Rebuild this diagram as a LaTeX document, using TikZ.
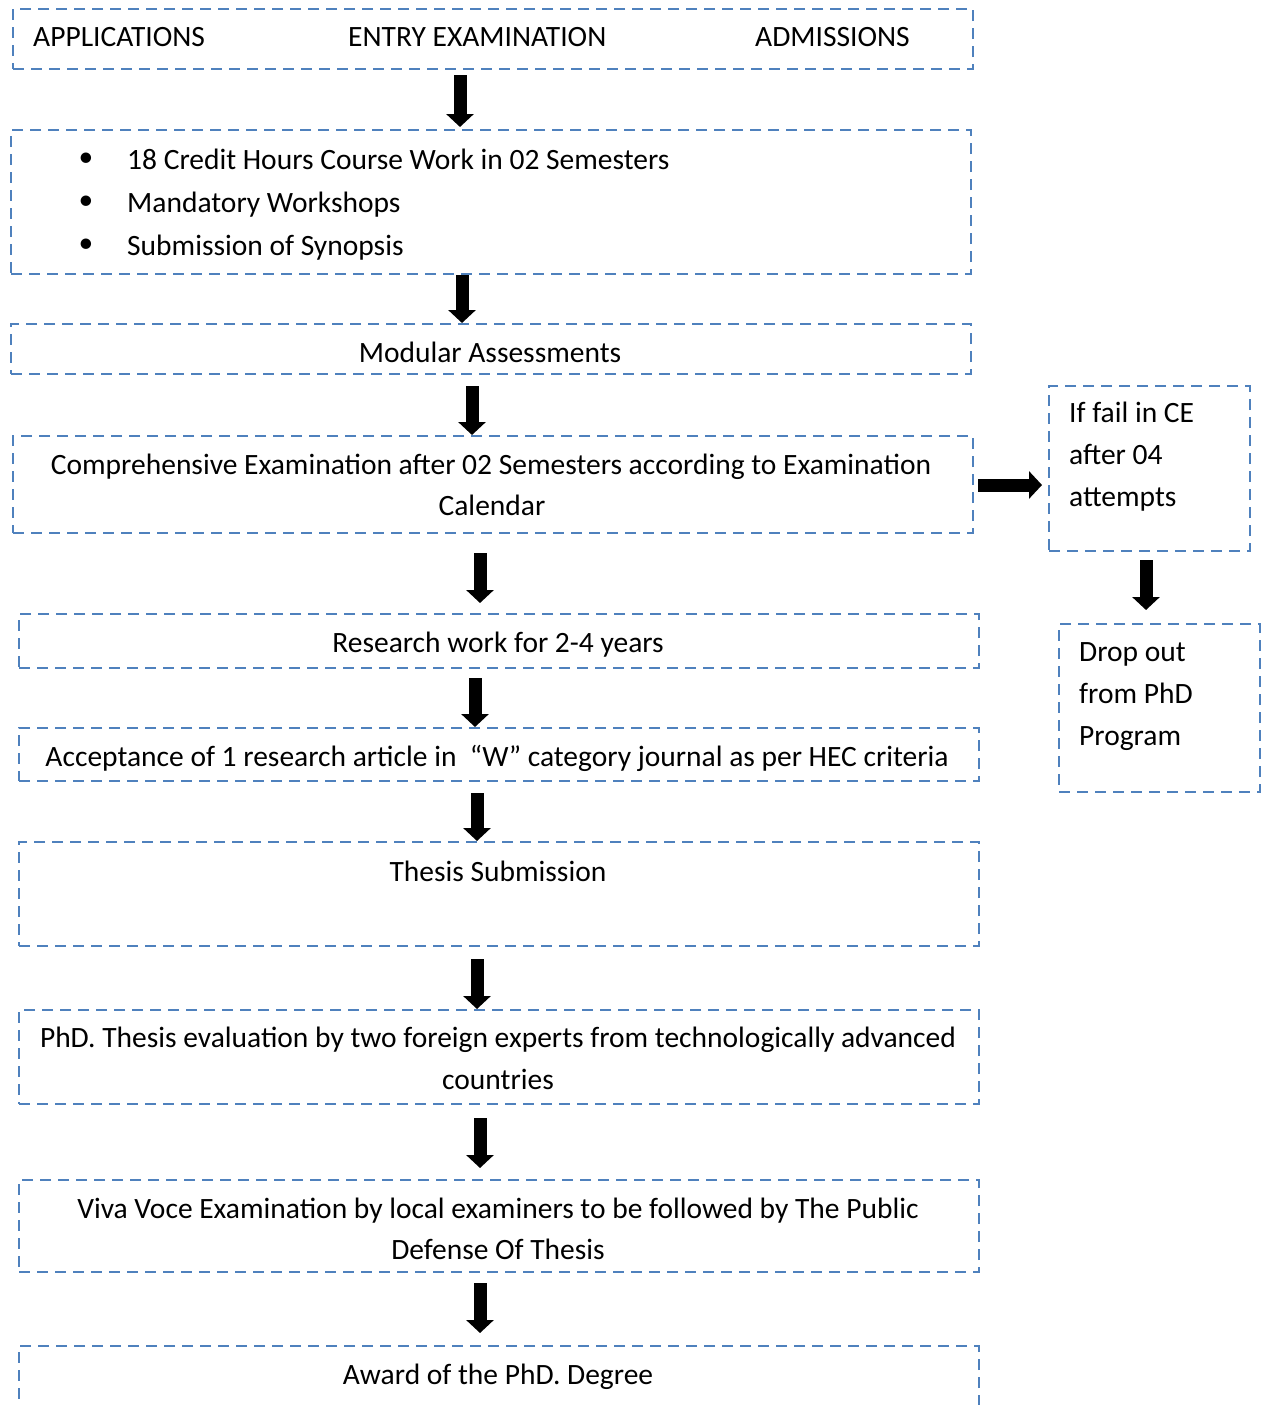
\documentclass[tikz,border=0pt]{standalone}
\usepackage{fontspec}
\setmainfont{Carlito}
\usetikzlibrary{arrows.meta}
\definecolor{boxblue}{RGB}{79,129,189}
\begin{document}
\begin{tikzpicture}[x=1pt,y=-1pt,
  box/.style={draw=boxblue, line width=2.3pt, dash pattern=on 11pt off 7pt, anchor=north west, inner sep=0pt},
  txt/.style={font=\fontsize{29.5}{42}\selectfont, inner sep=0pt, anchor=base},
  txtl/.style={txt, anchor=base west},
  blk/.style={line width=13pt, -{Triangle[width=27pt,length=13pt]}, black}]
\useasboundingbox (0,0) rectangle (1265,1405);
\clip (0,0) rectangle (1265,1405);
% boxes
\node[box, minimum width=960, minimum height=60] (b1) at (12,8) {};
\node[box, minimum width=960, minimum height=144] (b2) at (10,129) {};
\node[box, minimum width=960, minimum height=50] (b3) at (10,323) {};
\node[box, minimum width=960, minimum height=97] (b4) at (12,435) {};
\node[box, minimum width=960, minimum height=54] (b5) at (18,613) {};
\node[box, minimum width=960, minimum height=53] (b6) at (18,727) {};
\node[box, minimum width=960, minimum height=104] (b7) at (18,841) {};
\node[box, minimum width=960, minimum height=94] (b8) at (18,1009) {};
\node[box, minimum width=960, minimum height=92] (b9) at (18,1179) {};
\node[box, minimum width=960, minimum height=90] (b10) at (18,1345) {};
\node[box, minimum width=201, minimum height=165] (r1) at (1048,385) {};
\node[box, minimum width=201, minimum height=168] (r2) at (1058,623) {};
% texts
\node[txtl] (t1a) at (33,47) {APPLICATIONS};
\node[txtl] (t1b) at (348,47) {ENTRY EXAMINATION};
\node[txtl] (t1c) at (755,47) {ADMISSIONS};
\node[txt, anchor=center] (bu1) at (86,160) {•};
\node[txt, anchor=center] (bu2) at (86,203) {•};
\node[txt, anchor=center] (bu3) at (86,246) {•};
\node[txtl] (t2a) at (127,169) {18 Credit Hours Course Work in 02 Semesters};
\node[txtl] (t2b) at (127,212) {Mandatory Workshops};
\node[txtl] (t2c) at (127,255) {Submission of Synopsis};
\node[txt] (t3) at (490,362) {Modular Assessments};
\node[txt] (t4a) at (491,474) {Comprehensive Examination after 02 Semesters according to Examination};
\node[txt] (t4b) at (492,515) {Calendar};
\node[txtl] (tr1a) at (1069,422) {If fail in CE};
\node[txtl] (tr1b) at (1069,464) {after 04};
\node[txtl] (tr1c) at (1069,506) {attempts};
\node[txtl] (tr2a) at (1079,661) {Drop out};
\node[txtl] (tr2b) at (1079,703) {from PhD};
\node[txtl] (tr2c) at (1079,745) {Program};
\node[txt] (t5) at (498,652) {Research work for 2-4 years};
\node[txt] (t6) at (497,766) {Acceptance of 1 research article in\ \ “W” category journal as per HEC criteria};
\node[txt] (t7) at (498,881) {Thesis Submission};
\node[txt] (t8a) at (498,1047) {PhD. Thesis evaluation by two foreign experts from technologically advanced};
\node[txt] (t8b) at (498,1089) {countries};
\node[txt] (t9a) at (498,1218) {Viva Voce Examination by local examiners to be followed by The Public};
\node[txt] (t9b) at (498,1259) {Defense Of Thesis};
\node[txt] (t10) at (498,1384) {Award of the PhD. Degree};
% arrows
\coordinate (x1) at (460,0);
\coordinate (x2) at (462,0);
\coordinate (x3) at (472,0);
\coordinate (x4) at (480,0);
\coordinate (x5) at (475,0);
\coordinate (x6) at (477,0);
\coordinate (x7) at (477,0);
\coordinate (x8) at (480,0);
\coordinate (x9) at (480,0);
\coordinate (xr) at (1146,0);
\coordinate (yr) at (0,485);
\draw[blk, shorten <=5pt, shorten >=2pt] (b1.south -| x1) -- (b2.north -| x1);
\draw[blk, shorten <=0pt, shorten >=0pt] (b2.south -| x2) -- (b3.north -| x2);
\draw[blk, shorten <=11pt, shorten >=0pt] (b3.south -| x3) -- (b4.north -| x3);
\draw[blk, shorten <=19pt, shorten >=10pt] (b4.south -| x4) -- (b5.north -| x4);
\draw[blk, shorten <=9pt, shorten >=0pt] (b5.south -| x5) -- (b6.north -| x5);
\draw[blk, shorten <=11pt, shorten >=0pt] (b6.south -| x6) -- (b7.north -| x6);
\draw[blk, shorten <=12pt, shorten >=0pt] (b7.south -| x7) -- (b8.north -| x7);
\draw[blk, shorten <=13pt, shorten >=11pt] (b8.south -| x8) -- (b9.north -| x8);
\draw[blk, shorten <=10pt, shorten >=12pt] (b9.south -| x9) -- (b10.north -| x9);
\draw[blk, shorten <=4pt, shorten >=6pt] (b4.east |- yr) -- (r1.west |- yr);
\draw[blk, shorten <=8pt, shorten >=13pt] (r1.south -| xr) -- (r2.north -| xr);
\end{tikzpicture}
\end{document}
